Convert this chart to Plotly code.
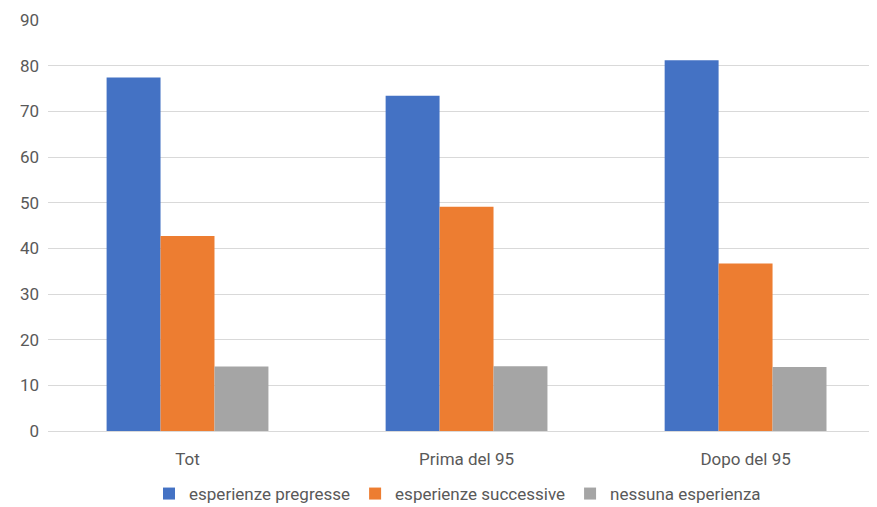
import plotly.graph_objects as go

categories = ["Tot", "Prima del 95", "Dopo del 95"]
series_names = ["esperienze pregresse", "esperienze successive", "nessuna esperienza"]
pregresse = [77.4, 73.4, 81.2]
successive = [42.7, 49.1, 36.7]
nessuna = [14.1, 14.2, 14.0]
colors = ["#4472C4", "#ED7D31", "#A5A5A5"]
y_ticks = [0, 10, 20, 30, 40, 50, 60, 70, 80, 90]

FONT = "Roboto, sans-serif"
W, H = 869, 499

fig = go.Figure()
for name, vals, col in zip(series_names, [pregresse, successive, nessuna], colors):
    fig.add_trace(go.Bar(x=categories, y=vals, name=name, marker_color=col,
                         marker_line_width=0))

fig.update_layout(
    width=W, height=H,
    barmode="group", bargap=0.42, bargroupgap=0,
    plot_bgcolor="white", paper_bgcolor="white",
    margin=dict(l=40, r=0, t=12, b=76),
    font=dict(family=FONT, size=17, color="#595959"),
    legend=dict(orientation="h", x=0.494, xanchor="center",
                yref="container", y=1 - 486 / H, yanchor="middle",
                font=dict(size=17, color="#595959"), itemwidth=30,
                traceorder="normal"),
    showlegend=True,
)
fig.update_xaxes(range=[-0.5, 2.471], showgrid=False, showline=True,
                 linecolor="#d9d9d9", linewidth=1, ticks="", automargin=False,
                 tickfont=dict(size=17, color="#595959"), ticklabelstandoff=13)
fig.update_yaxes(range=[0, 90], tickvals=y_ticks, showgrid=True, gridcolor="#d9d9d9",
                 gridwidth=1, zeroline=False, showline=False, ticks="", automargin=False,
                 ticklabelstandoff=8, tickfont=dict(size=17, color="#595959"))

fig.write_html("out.html")
